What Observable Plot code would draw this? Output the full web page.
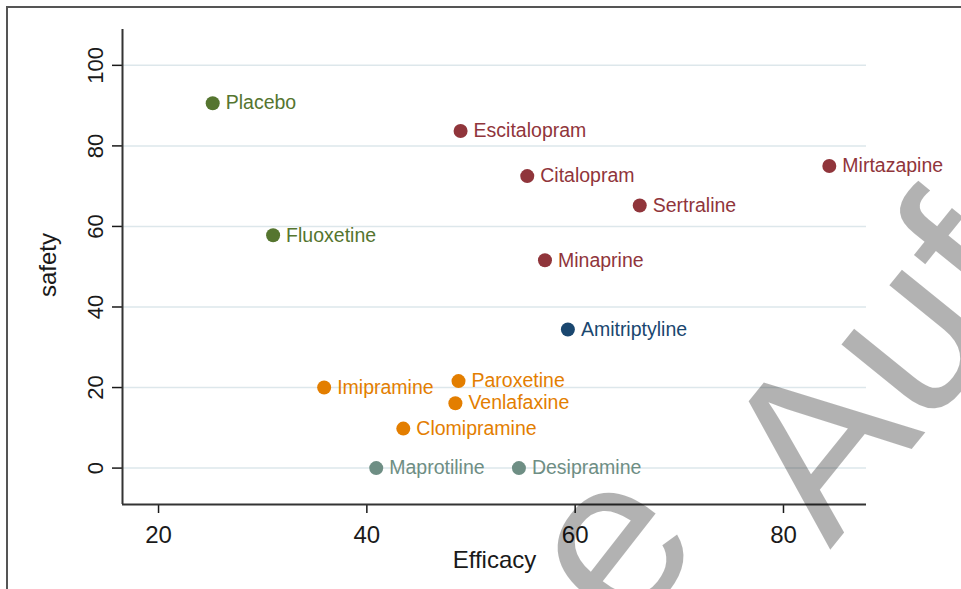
<!DOCTYPE html>
<html>
<head>
<meta charset="utf-8">
<script src="https://cdn.jsdelivr.net/npm/d3@7"></script>
<script src="https://cdn.jsdelivr.net/npm/@observablehq/plot@0.6"></script>
<style>
  html, body { margin: 0; padding: 0; background: #fff; }
  #wrap { position: relative; width: 961px; height: 589px; overflow: hidden; background: #fff; }
  #border { position: absolute; left: 6px; top: 6px; width: 1000px; height: 700px;
            border-top: 2px solid #555; border-left: 2px solid #555; pointer-events: none; }
  #chart { position: absolute; left: 0; top: 0; }
  #wm { position: absolute; left: 0; top: 0; pointer-events: none; }
</style>
</head>
<body>
<div id="wrap">
  <div id="chart"></div>
  <div id="border"></div>
  <svg id="wm" width="961" height="589">
    <g font-family="'Liberation Sans', Arial, sans-serif" font-weight="400" font-size="228" fill="#000" fill-opacity="0.3">
      <text transform="translate(628,640) rotate(-52)">e</text>
      <text transform="translate(830,550) rotate(-51)">Auf</text>
    </g>
  </svg>
</div>
<script>
const names = ["Placebo","Fluoxetine","Escitalopram","Citalopram","Mirtazapine","Sertraline","Minaprine","Amitriptyline","Imipramine","Paroxetine","Venlafaxine","Clomipramine","Maprotiline","Desipramine"];
const efficacy = [25.2, 31.0, 49.0, 55.4, 84.4, 66.2, 57.1, 59.3, 35.9, 48.8, 48.5, 43.5, 40.9, 54.6];
const safety   = [90.6, 57.8, 83.7, 72.5, 75.0, 65.2, 51.6, 34.4, 20.0, 21.6, 16.1, 9.8, 0, 0];
const groups   = ["g1","g1","g2","g2","g2","g2","g2","g3","g4","g4","g4","g4","g5","g5"];
const groupNames  = ["g1","g2","g3","g4","g5"];
const groupColors = ["#55752f","#90353b","#1a476f","#e37e00","#6e8e84"];
const xTicks = [20, 40, 60, 80];
const yTicks = [0, 20, 40, 60, 80, 100];
const xDomain = [16.54, 87.97];
const yDomain = [-9.04, 108.9];

const data = names.map((n, i) => ({name: n, efficacy: efficacy[i], safety: safety[i], group: groups[i]}));

const chart = Plot.plot({
  width: 961,
  height: 589,
  marginTop: 29,
  marginRight: 95,
  marginBottom: 85,
  marginLeft: 122,
  style: {fontFamily: "'Liberation Sans', Arial, sans-serif", background: "transparent", color: "#1a1a1a", overflow: "visible"},
  x: {domain: xDomain},
  y: {domain: yDomain},
  color: {domain: groupNames, range: groupColors},
  marks: [
    Plot.gridY(yTicks, {stroke: "#dde7eb", strokeOpacity: 1, strokeWidth: 1.5}),
    Plot.axisX(xTicks, {tickSize: 9, tickPadding: 12, fontSize: 24, label: null, strokeWidth: 1.5}),
    Plot.axisY(yTicks, {tickSize: 10, tickFormat: () => "", label: null, strokeWidth: 1.5}),
    Plot.text(yTicks, {y: d => d, text: d => String(d), frameAnchor: "left", dx: -20, rotate: -90,
                       lineAnchor: "bottom", textAnchor: "middle", fontSize: 22}),
    Plot.ruleX([xDomain[0]], {stroke: "#333", strokeWidth: 2}),
    Plot.ruleY([yDomain[0]], {stroke: "#333", strokeWidth: 2}),
    Plot.text(["Efficacy"], {frameAnchor: "bottom", dy: 63, lineAnchor: "bottom", textAnchor: "middle", fontSize: 24}),
    Plot.text(["safety"], {frameAnchor: "left", dx: -67, dy: -2, rotate: -90, lineAnchor: "bottom", textAnchor: "middle", fontSize: 24}),
    Plot.dot(data, {x: "efficacy", y: "safety", r: 7, fill: "group"}),
    Plot.text(data, {x: "efficacy", y: "safety", text: "name", fill: "group", textAnchor: "start", dx: 13, fontSize: 19.5})
  ]
});
document.getElementById("chart").appendChild(chart);
</script>
</body>
</html>
